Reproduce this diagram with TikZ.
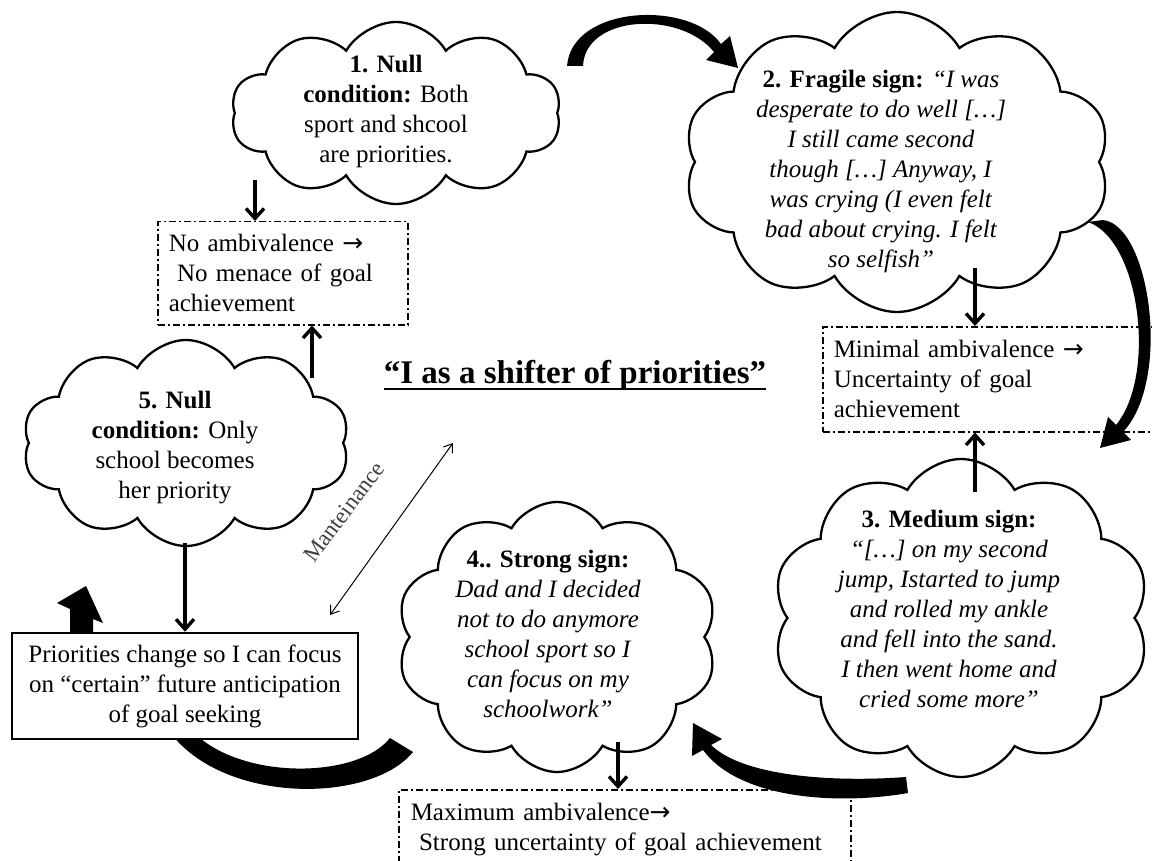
\documentclass[tikz,border=0pt]{standalone}
\usepackage{fontspec}
\setmainfont{Liberation Serif}
\newfontfamily\arrowfont{DejaVu Sans}
\usetikzlibrary{shapes.symbols, arrows.meta}

\newcommand{\toarrow}{{\arrowfont →}}

\begin{document}
\begin{tikzpicture}[x=1pt, y=-1pt,
        cloudy/.style={cloud, draw, line width=2.3, fill=white, cloud puffs=10, cloud puff arc=120, cloud ignores aspect, inner sep=0},
        words/.style={font=\fontsize{25}{30}\selectfont, align=center, inner sep=0},
        dashbox/.style={draw, line width=1.5, dash pattern=on 7pt off 3pt on 2pt off 3pt, font=\fontsize{25}{30}\selectfont, align=left, inner xsep=11, inner ysep=0, anchor=north west},
        arr/.style={-{Straight Barb[length=10pt,width=18pt]}, line width=3.4},
        dbl/.style={{Straight Barb[length=8pt,width=11pt]}-{Straight Barb[length=8pt,width=11pt]}, line width=1}
    ]
    \useasboundingbox (0,0) rectangle (1152,861);
    \clip (0,0) rectangle (1152,861);

    % Clouds
    \node[cloudy, minimum width=330, minimum height=182] (c1) at (396,113) {};
    \node[cloudy, minimum width=427, minimum height=300] (c2) at (897,162) {};
    \node[cloudy, minimum width=378, minimum height=318] (c3) at (961,618) {};
    \node[cloudy, minimum width=321, minimum height=270] (c4) at (557,637) {};
    \node[cloudy, minimum width=327, minimum height=206] (c5) at (186,443) {};

    % Big curved arrows
    \fill (567,66) .. controls (572,5) and (690,0) .. (721,44) -- (730,36) -- (738,68) -- (706,60) -- (714,52) .. controls (680,10) and (585,15) .. (583,66) -- cycle;
    \fill (1103,220) .. controls (1150,225) and (1172,380) .. (1123,432) -- (1131,440) -- (1100,448) -- (1108,417) -- (1116,425) .. controls (1157,375) and (1140,240) .. (1088,222) -- cycle;
    \fill (908,793) .. controls (840,805) and (740,800) .. (703,750) -- (692,756) -- (693,723) -- (722,739) -- (711,745) .. controls (745,778) and (840,782) .. (906,777) -- cycle;
    \fill (413,752) .. controls (370,805) and (215,805) .. (165,725) -- (185,722) .. controls (225,780) and (355,782) .. (390,738) -- cycle;
    \fill (70,645) -- (70,609) -- (57,603) -- (86,586) -- (103,623) -- (93,619) -- (93,645) -- cycle;

    % Cloud texts
    \node[words] (c1t) at (386,111) {\textbf{1. Null}\\\textbf{condition:} Both\\sport and shcool\\are priorities.};
    \node[words] (c2t) at (881,171) {\textbf{2. Fragile sign:} \textit{“I was}\\\textit{desperate to do well […]}\\\textit{I still came second}\\\textit{though […] Anyway, I}\\\textit{was crying (I even felt}\\\textit{bad about crying. I felt}\\\textit{so selfish”}};
    \node[words] (c3t) at (949,609) {\textbf{3. Medium sign:}\\\textit{“[…] on my second}\\\textit{jump, Istarted to jump}\\\textit{and rolled my ankle}\\\textit{and fell into the sand.}\\\textit{I then went home and}\\\textit{cried some more”}};
    \node[words] (c4t) at (548,634) {\textbf{4.. Strong sign:}\\\textit{Dad and I decided}\\\textit{not to do anymore}\\\textit{school sport so I}\\\textit{can focus on my}\\\textit{schoolwork”}};
    \node[words] (c5t) at (175,448) {\textbf{5. Null}\\\textbf{condition:} Only\\school becomes\\her priority};

    % Boxes
    \node[dashbox, minimum width=250, minimum height=103, text width=228] (noamb) at (157,221) {No ambivalence \toarrow\\\ No menace of goal\\achievement};
    \node[dashbox, minimum width=340, minimum height=105, text width=318] (minamb) at (822,326) {Minimal ambivalence \toarrow\\Uncertainty of goal\\achievement};
    \node[dashbox, minimum width=452, minimum height=80, text width=428, inner xsep=12] (maxamb) at (398,789) {Maximum ambivalence\toarrow\\\ Strong uncertainty of goal achievement};
    \node[words, draw, line width=2.5, fill=white, minimum width=346, minimum height=106] (prio) at (185,686) {Priorities change so I can focus\\on “certain” future anticipation\\of goal seeking};

    % Title and label
    \node[font=\fontsize{33}{38}\selectfont\bfseries, inner sep=0, anchor=base] (title) at (575,383) {“I as a shifter of priorities”};
    \draw[line width=2.2] ([yshift=-6pt]title.base west) -- ([yshift=-6pt]title.base east);
    \node[font=\fontsize{23}{26}\selectfont, text=black!75, rotate=53, inner sep=0] (mlab) at (344,512) {Manteinance};

    % Small arrows
    \coordinate (c1o) at (255,180);
    \coordinate (c2o) at (975,268);
    \coordinate (c3o) at (975,492);
    \coordinate (c4o) at (618,742);
    \coordinate (c5o) at (312,378);
    \coordinate (c5d) at (185,543);
    \draw[arr] (c1o) -- (c1o |- noamb.north);
    \draw[arr] (c2o) -- (c2o |- minamb.north);
    \draw[arr] (c3o) -- (c3o |- minamb.south);
    \draw[arr] (c4o) -- (c4o |- maxamb.north);
    \draw[arr] (c5o) -- (c5o |- noamb.south);
    \draw[arr] (c5d) -- (c5d |- prio.north);

    % Manteinance
    \coordinate (m1) at (330,615);
    \coordinate (m2) at (453,443);
    \draw[dbl] (m1) -- (m2);

    \end{tikzpicture}
\end{document}
